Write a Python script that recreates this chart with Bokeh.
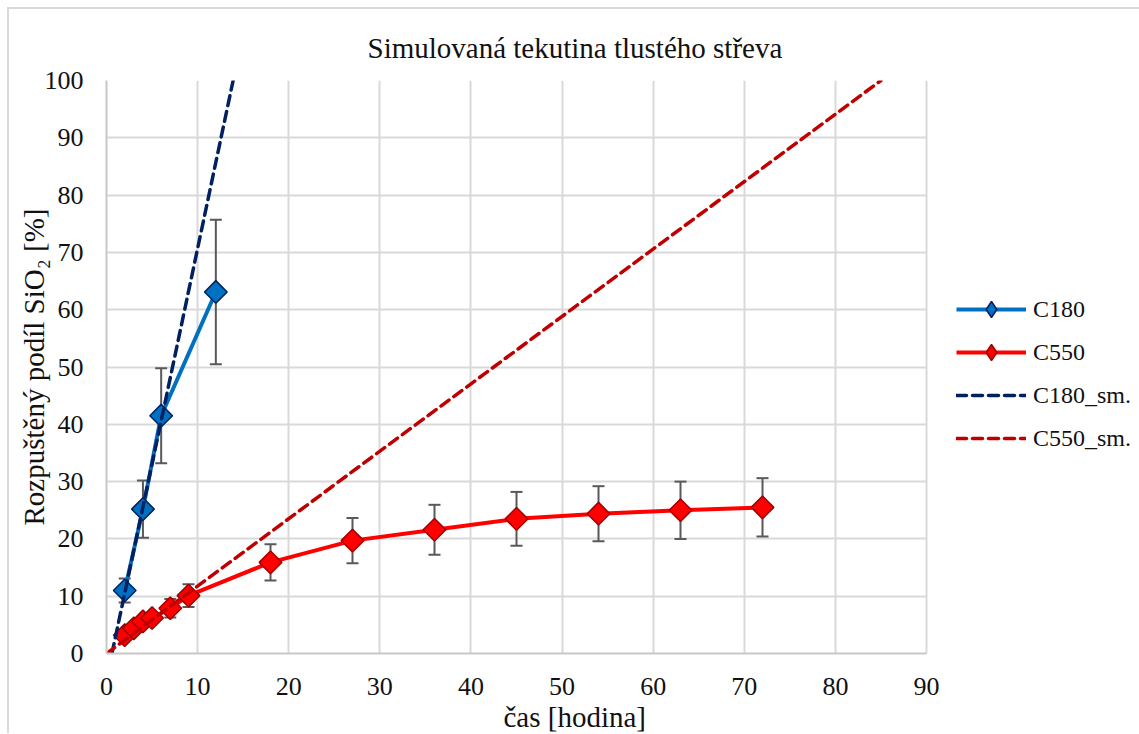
from bokeh.plotting import figure
from bokeh.layouts import column
from bokeh.models import (Range1d, FixedTicker, Whisker, ColumnDataSource, Legend,
                          LegendItem, Title, TeeHead)
from bokeh.embed import file_html
from bokeh.resources import INLINE

# ---- data ----
c180_t = [2, 4, 6, 12]
c180_y = [11.0, 25.2, 41.5, 63.1]
c180_err = [2.1, 5.0, 8.3, 12.6]

c550_t = [2, 3, 4, 5, 7, 9, 18, 27, 36, 45, 54, 63, 72]
c550_y = [3.2, 4.4, 5.6, 6.2, 7.9, 10.1, 15.9, 19.7, 21.6, 23.5, 24.4, 25.0, 25.5]
c550_err = [0.5, 0.6, 0.7, 0.9, 1.6, 2.0, 3.15, 3.95, 4.35, 4.7, 4.8, 5.0, 5.1]

c180_sm_t = [0.6, 13.9]
c180_sm_y = [0.0, 100.0]
c550_sm_t = [0.0, 85.0]
c550_sm_y = [0.0, 100.0]

x_ticks = [0, 10, 20, 30, 40, 50, 60, 70, 80, 90]
y_ticks = [0, 10, 20, 30, 40, 50, 60, 70, 80, 90, 100]
x_axis_max = 90

title_text = "Simulovaná tekutina tlustého střeva"
x_label = "čas [hodina]"
y_label = "Rozpuštěný podíl SiO₂ [%]"

FONT = "'Liberation Serif'"

# frame extends past the axis end so the legend (placed right of the axis) is not clipped
FRAME_W_AXIS = 820
FRAME_W = 1033
x_end = x_axis_max * FRAME_W / FRAME_W_AXIS

p = figure(frame_width=FRAME_W, frame_height=573, output_backend="svg", toolbar_location=None,
           x_range=Range1d(0, x_end), y_range=Range1d(0, 100),
           min_border_left=97, min_border_top=71, min_border_bottom=0, min_border_right=0)
p.title = None
p.add_layout(Title(text=title_text, align="left", text_font=FONT, text_font_size="29px",
                   text_font_style="normal", text_color="#111111", offset=261, standoff=33), "above")

# grid & axes
for ax in (p.xaxis[0], p.yaxis[0]):
    ax.axis_line_color = "#c8c8c8"
    ax.axis_line_width = 2
    ax.major_tick_line_color = None
    ax.minor_tick_line_color = None
    ax.major_label_text_font = FONT
    ax.major_label_text_font_size = "26px"
    ax.major_label_text_color = "#111111"
    ax.axis_label_text_font = FONT
    ax.axis_label_text_font_size = "29px"
    ax.axis_label_text_font_style = "normal"
    ax.axis_label_text_color = "#111111"
p.xaxis.ticker = FixedTicker(ticks=x_ticks)
p.yaxis.ticker = FixedTicker(ticks=y_ticks)
p.xaxis.bounds = (0, x_axis_max)
p.yaxis.axis_label = y_label
p.xaxis.major_label_standoff = 18
p.yaxis.major_label_standoff = 17
p.yaxis.axis_label_standoff = -8
p.add_layout(Title(text=x_label, align="left", text_font=FONT, text_font_size="29px",
                   text_font_style="normal", text_color="#111111", offset=397, standoff=2), "below")
p.xgrid.ticker = FixedTicker(ticks=x_ticks)
p.ygrid.ticker = FixedTicker(ticks=y_ticks)
p.ygrid.cross_bounds = (0, x_axis_max)
p.xgrid.grid_line_color = "#d9d9d9"
p.ygrid.grid_line_color = "#d9d9d9"
p.xgrid.grid_line_width = 2
p.ygrid.grid_line_width = 2
p.outline_line_color = None

# sources
s180 = ColumnDataSource(dict(t=c180_t, y=c180_y,
                             up=[a + b for a, b in zip(c180_y, c180_err)],
                             lo=[a - b for a, b in zip(c180_y, c180_err)]))
s550 = ColumnDataSource(dict(t=c550_t, y=c550_y,
                             up=[a + b for a, b in zip(c550_y, c550_err)],
                             lo=[a - b for a, b in zip(c550_y, c550_err)]))

ERR = "#595959"
for src in (s180, s550):
    w = Whisker(base="t", upper="up", lower="lo", source=src, line_color=ERR, line_width=2,
                upper_head=TeeHead(size=12, line_color=ERR, line_width=2),
                lower_head=TeeHead(size=12, line_color=ERR, line_width=2), level="underlay")
    p.add_layout(w)

BLUE, NAVY, RED, DRED, MRED = "#0070C0", "#002060", "#FF0000", "#C00000", "#A00000"

l180 = p.line("t", "y", source=s180, line_color=BLUE, line_width=4)
# smaller diamond glyph (used for the legend), fully covered by the rotated square markers
k180 = p.scatter("t", "y", source=s180, marker="diamond", size=18,
                 fill_color=BLUE, line_color=NAVY, line_width=1.5)
m180 = p.scatter("t", "y", source=s180, marker="square", size=16, angle=0.785398,
                 fill_color=BLUE, line_color=NAVY, line_width=1.5)
l550 = p.line("t", "y", source=s550, line_color=RED, line_width=4)
k550 = p.scatter("t", "y", source=s550, marker="diamond", size=18,
                 fill_color=RED, line_color=MRED, line_width=1.5)
m550 = p.scatter("t", "y", source=s550, marker="square", size=16, angle=0.785398,
                 fill_color=RED, line_color=MRED, line_width=1.5)
d180 = p.line(c180_sm_t, c180_sm_y, line_color=NAVY, line_width=3.5, line_dash="10 6",
              line_cap="round")
d550 = p.line(c550_sm_t, c550_sm_y, line_color=DRED, line_width=3.5, line_dash="10 6",
              line_cap="round")

legend = Legend(items=[
    LegendItem(label="C180", renderers=[l180, k180]),
    LegendItem(label="C550", renderers=[l550, k550]),
    LegendItem(label="C180_sm.", renderers=[d180]),
    LegendItem(label="C550_sm.", renderers=[d550]),
], location=(850, 195))
legend.label_text_font = FONT
legend.label_text_font_size = "24px"
legend.label_text_color = "#111111"
legend.glyph_width = 70
legend.glyph_height = 40
legend.label_height = 28
legend.label_standoff = 7
legend.spacing = 3
legend.padding = 10
legend.margin = 0
legend.border_line_color = None
legend.background_fill_alpha = 0
p.add_layout(legend, "center")

layout = column(p, styles={"border-left": "2px solid #d9d9d9", "border-top": "2px solid #d9d9d9",
                           "margin-left": "7px", "margin-top": "7px"})

open("out.html", "w").write(file_html(layout, INLINE))
